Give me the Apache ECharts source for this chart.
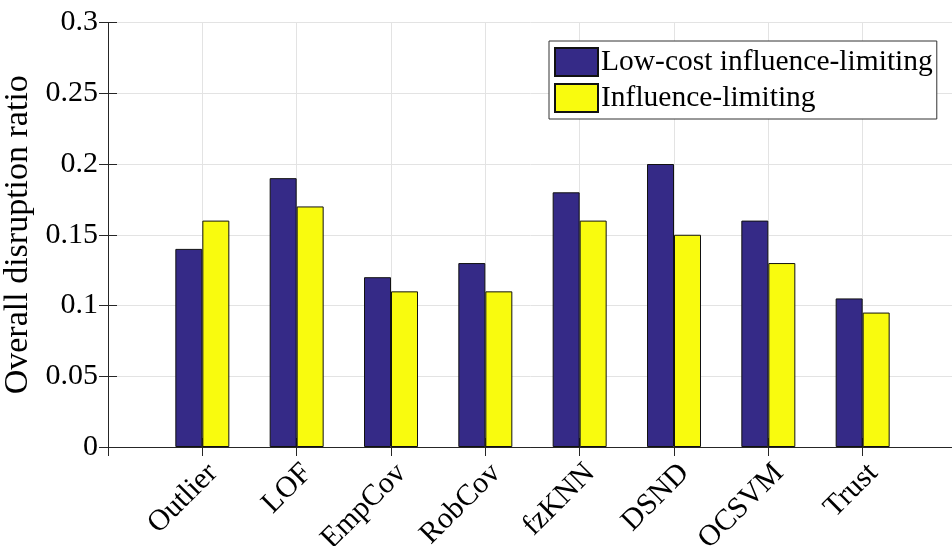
<!DOCTYPE html>
<html>
<head>
<meta charset="utf-8">
<script src="https://cdn.jsdelivr.net/npm/echarts@6/dist/echarts.min.js"></script>
<style>
  html, body { margin: 0; padding: 0; background: #fff; }
  #chart { width: 952px; height: 546px; }
</style>
</head>
<body>
<div id="chart"></div>
<script>
// Detection methods along the x axis
const categories = ['Outlier', 'LOF', 'EmpCov', 'RobCov', 'fzKNN', 'DSND', 'OCSVM', 'Trust'];
// Overall disruption ratio per method
const lowCostValues = [0.14, 0.19, 0.12, 0.13, 0.18, 0.20, 0.16, 0.105];
const influenceValues = [0.16, 0.17, 0.11, 0.11, 0.16, 0.15, 0.13, 0.095];
const seriesNames = ['Low-cost influence-limiting', 'Influence-limiting'];
const yTicks = [0, 0.05, 0.1, 0.15, 0.2, 0.25, 0.3];

const serif = "'Liberation Serif', 'Times New Roman', 'DejaVu Serif', serif";
const axisColor = '#262626';
const gridColor = '#e3e3e3';

const toPoints = vals => vals.map((v, i) => [i + 1, v]);

const chart = echarts.init(document.getElementById('chart'), null, { renderer: 'canvas' });

const baseX = {
  type: 'value', min: 0, max: categories.length + 1, interval: 1,
  axisLine: { show: true, lineStyle: { color: axisColor, width: 1 } },
  axisTick: { show: true, inside: true, length: 9, lineStyle: { color: axisColor } },
};
const baseY = {
  type: 'value', min: yTicks[0], max: yTicks[yTicks.length - 1], interval: 0.05,
  axisLine: { show: true, lineStyle: { color: axisColor, width: 1 } },
  axisTick: { show: true, inside: true, length: 9, lineStyle: { color: axisColor } },
};

chart.setOption({
  animation: false,
  backgroundColor: '#ffffff',
  textStyle: { fontFamily: serif },
  grid: {
    left: 108, right: -5, top: 22.5, bottom: 99,
    containLabel: false, outerBoundsMode: 'none'
  },
  legend: {
    orient: 'vertical',
    left: 549, top: 41,
    padding: [6, 4, 6, 5],
    itemGap: 6,
    itemWidth: 43, itemHeight: 28,
    icon: 'rect',
    backgroundColor: '#ffffff',
    borderColor: '#333333', borderWidth: 1,
    textStyle: { fontFamily: serif, fontSize: 29.5, color: '#000', padding: [0, 0, 0, -2] },
    data: seriesNames
  },
  xAxis: [
    Object.assign({}, baseX, {
      position: 'bottom',
      splitLine: { show: true, lineStyle: { color: gridColor, width: 1 } },
      axisLabel: {
        show: true, rotate: 45, margin: 11,
        verticalAlign: 'top',
        fontFamily: serif, fontSize: 30, color: '#000',
        formatter: v => categories[v - 1] || ''
      }
    }),
    Object.assign({}, baseX, {
      position: 'top',
      splitLine: { show: false },
      axisLabel: { show: false }
    })
  ],
  yAxis: [
    Object.assign({}, baseY, {
      position: 'left',
      name: 'Overall disruption ratio',
      nameLocation: 'middle', nameGap: 66, nameRotate: 90,
      nameTextStyle: { fontFamily: serif, fontSize: 34, color: '#000' },
      splitLine: { show: true, lineStyle: { color: gridColor, width: 1 } },
      axisLabel: {
        show: true, margin: 10, fontFamily: serif, fontSize: 30, color: '#000',
        formatter: v => String(+v.toFixed(2))
      }
    }),
    Object.assign({}, baseY, {
      position: 'right',
      splitLine: { show: false },
      axisLabel: { show: false }
    })
  ],
  series: [
    {
      name: seriesNames[0], type: 'bar', xAxisIndex: 0, yAxisIndex: 0,
      barWidth: 27, barGap: '0%',
      itemStyle: { color: '#352a87', borderColor: '#111111', borderWidth: 1 },
      data: toPoints(lowCostValues)
    },
    {
      name: seriesNames[1], type: 'bar', xAxisIndex: 0, yAxisIndex: 0,
      barWidth: 27, barGap: '0%',
      itemStyle: { color: '#f9fb0e', borderColor: '#111111', borderWidth: 1 },
      data: toPoints(influenceValues)
    }
  ]
});
</script>
</body>
</html>
